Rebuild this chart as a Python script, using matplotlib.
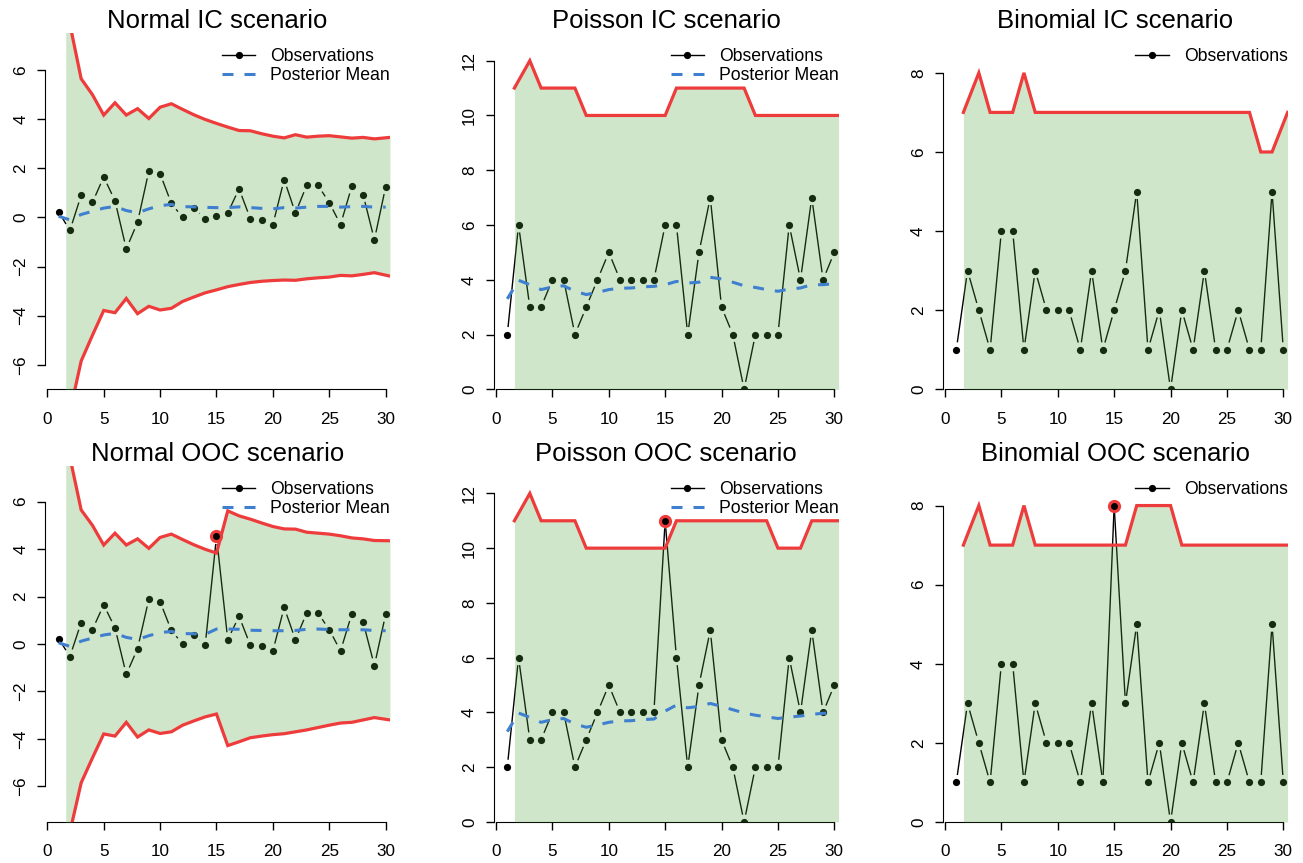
import numpy as np
import matplotlib
matplotlib.use("Agg")
import matplotlib.pyplot as plt
from matplotlib.collections import LineCollection
from matplotlib.lines import Line2D

plt.rcParams['font.family'] = ['Liberation Sans', 'DejaVu Sans']

# time index
t = np.arange(1, 31)
lim_t = np.arange(2, 31)   # limits exist from t=2 on

# ---- Normal ----
normal_obs_ic = [0.23, -0.53, 0.9, 0.61, 1.65, 0.68, -1.28, -0.2, 1.89, 1.78,
                 0.57, 0.0, 0.38, -0.05, 0.04, 0.18, 1.17, -0.05, -0.1, -0.29,
                 1.54, 0.18, 1.31, 1.31, 0.6, -0.29, 1.27, 0.93, -0.91, 1.25]
normal_obs_ooc = [0.23, -0.53, 0.9, 0.61, 1.65, 0.68, -1.28, -0.2, 1.89, 1.78,
                  0.57, 0.0, 0.38, -0.05, 4.53, 0.18, 1.17, -0.05, -0.1, -0.29,
                  1.54, 0.18, 1.31, 1.31, 0.6, -0.29, 1.27, 0.93, -0.91, 1.25]
normal_mean_ic = [0.05, -0.1, 0.12, 0.25, 0.38, 0.45, 0.28, 0.19, 0.35, 0.48,
                  0.53, 0.44, 0.43, 0.41, 0.4, 0.4, 0.43, 0.4, 0.37, 0.35,
                  0.4, 0.38, 0.42, 0.45, 0.45, 0.42, 0.44, 0.45, 0.42, 0.42]
normal_mean_ooc = [0.05, -0.1, 0.12, 0.25, 0.38, 0.45, 0.28, 0.19, 0.35, 0.48,
                   0.53, 0.44, 0.43, 0.41, 0.63, 0.63, 0.62, 0.58, 0.57, 0.56,
                   0.56, 0.57, 0.62, 0.63, 0.61, 0.6, 0.6, 0.6, 0.57, 0.56]
normal_upper_ic = [8.7, 5.65, 5.0, 4.17, 4.67, 4.17, 4.43, 4.03, 4.49, 4.63,
                   4.4, 4.18, 3.99, 3.83, 3.68, 3.54, 3.53, 3.41, 3.31, 3.24,
                   3.37, 3.27, 3.31, 3.33, 3.28, 3.23, 3.26, 3.2, 3.26]
normal_lower_ic = [-8.7, -5.85, -4.8, -3.79, -3.88, -3.3, -3.92, -3.62, -3.77, -3.7,
                   -3.42, -3.24, -3.07, -2.95, -2.82, -2.73, -2.65, -2.6, -2.57, -2.55,
                   -2.56, -2.5, -2.46, -2.43, -2.36, -2.38, -2.32, -2.25, -2.39]
normal_upper_ooc = [8.7, 5.65, 5.0, 4.17, 4.67, 4.17, 4.43, 4.03, 4.49, 4.63,
                    4.4, 4.18, 3.99, 3.83, 5.61, 5.4, 5.26, 5.1, 4.95, 4.85,
                    4.84, 4.71, 4.67, 4.63, 4.56, 4.47, 4.43, 4.36, 4.35]
normal_lower_ooc = [-8.7, -5.85, -4.8, -3.79, -3.88, -3.3, -3.92, -3.62, -3.77, -3.7,
                    -3.42, -3.24, -3.07, -2.95, -4.28, -4.12, -3.95, -3.88, -3.82, -3.78,
                    -3.7, -3.62, -3.52, -3.42, -3.33, -3.3, -3.2, -3.1, -3.2]

# ---- Poisson ----
poisson_obs_ic = [2, 6, 3, 3, 4, 4, 2, 3, 4, 5, 4, 4, 4, 4, 6,
                  6, 2, 5, 7, 3, 2, 0, 2, 2, 2, 6, 4, 7, 4, 5]
poisson_obs_ooc = [2, 6, 3, 3, 4, 4, 2, 3, 4, 5, 4, 4, 4, 4, 11,
                   6, 2, 5, 7, 3, 2, 0, 2, 2, 2, 6, 4, 7, 4, 5]
poisson_mean_ic = [3.3, 3.98, 3.82, 3.64, 3.74, 3.78, 3.58, 3.46, 3.54, 3.64,
                   3.69, 3.7, 3.74, 3.76, 3.82, 3.94, 3.88, 3.91, 4.09, 4.03,
                   3.91, 3.78, 3.72, 3.64, 3.58, 3.66, 3.7, 3.82, 3.82, 3.86]
poisson_mean_ooc = [3.3, 3.98, 3.82, 3.64, 3.74, 3.78, 3.58, 3.46, 3.54, 3.64,
                    3.69, 3.7, 3.74, 3.76, 4.05, 4.27, 4.17, 4.22, 4.33, 4.22,
                    4.1, 3.98, 3.9, 3.84, 3.78, 3.83, 3.87, 3.93, 3.97, 3.98]
poisson_upper_ic = [11, 12, 11, 11, 11, 11, 10, 10, 10, 10, 10, 10, 10, 10,
                    11, 11, 11, 11, 11, 11, 11, 10, 10, 10, 10, 10, 10, 10, 10]
poisson_upper_ooc = [11, 12, 11, 11, 11, 11, 10, 10, 10, 10, 10, 10, 10, 10,
                     11, 11, 11, 11, 11, 11, 11, 11, 11, 10, 10, 10, 11, 11, 11]

# ---- Binomial ----
binom_obs_ic = [1, 3, 2, 1, 4, 4, 1, 3, 2, 2, 2, 1, 3, 1, 2,
                3, 5, 1, 2, 0, 2, 1, 3, 1, 1, 2, 1, 1, 5, 1]
binom_obs_ooc = [1, 3, 2, 1, 4, 4, 1, 3, 2, 2, 2, 1, 3, 1, 8,
                 3, 5, 1, 2, 0, 2, 1, 3, 1, 1, 2, 1, 1, 5, 1]
binom_upper_ic = [7, 8, 7, 7, 7, 8, 7, 7, 7, 7, 7, 7, 7, 7, 7,
                  7, 7, 7, 7, 7, 7, 7, 7, 7, 7, 7, 6, 6, 7]
binom_upper_ooc = [7, 8, 7, 7, 7, 8, 7, 7, 7, 7, 7, 7, 7, 7, 7,
                   8, 8, 8, 8, 7, 7, 7, 7, 7, 7, 7, 7, 7, 7]

RED = '#EE3B3B'
BLUE = '#3F7FCF'
FILL = (0.33, 0.65, 0.25)

# limits are drawn out a bit past the first and last time point
lim_x = lim_t.astype(float)
lim_x[0] = 1.63
lim_x[-1] = 30.38


def gapped_line(ax, x, y, gap=7.5):
    # R type="b": lines stop short of the points
    tr = ax.transData
    pts = tr.transform(np.column_stack([x, y]))
    segs = []
    for p, q in zip(pts[:-1], pts[1:]):
        d = q - p
        L = np.hypot(d[0], d[1])
        if L <= 2 * gap:
            continue
        u = d / L
        segs.append(tr.inverted().transform(np.array([p + u * gap, q - u * gap])))
    ax.add_collection(LineCollection(segs, colors='black', linewidths=1.0, zorder=1))


def panel(ax, title, obs, upper, lower, mean, ylim, yticks, ooc=False):
    ax.set_xlim(-0.2, 30.4)
    ax.set_ylim(*ylim)
    gapped_line(ax, t, obs)
    ax.plot(t, obs, 'o', color='black', ms=5.2, mec='none', zorder=2)
    lo = lower if lower is not None else np.zeros(len(upper))
    ax.fill_between(lim_x, lo, upper, color=FILL, alpha=0.27, lw=0, zorder=3)
    ax.plot(lim_x, upper, color=RED, lw=2.3, zorder=4, solid_joinstyle='miter')
    if lower is not None:
        ax.plot(lim_x, lower, color=RED, lw=2.3, zorder=4, solid_joinstyle='miter')
    handles = [Line2D([], [], color='black', lw=1.0, marker='o', ms=5.2, mec='none')]
    labels = ['Observations']
    if mean is not None:
        ax.plot(t, mean, color=BLUE, lw=2.2, dashes=(3.6, 3.6), zorder=5)
        handles.append(Line2D([], [], color=BLUE, lw=2.2, dashes=(3.6, 3.6)))
        labels.append('Posterior Mean')
    if ooc:
        ax.plot(t[14], obs[14], 'o', color=RED, ms=9.5, mec='none', zorder=6)
        ax.plot(t[14], obs[14], 'o', color='black', ms=5.0, mec='none', zorder=7)

    ax.set_title(title, fontsize=18.5, pad=1.5)
    ax.legend(handles, labels, loc='upper right', bbox_to_anchor=(1.0, 0.958),
              frameon=False, fontsize=12.7, borderpad=0, borderaxespad=0,
              handlelength=1.9, handletextpad=0.85, labelspacing=0.12)

    ax.set_xticks([0, 5, 10, 15, 20, 25, 30])
    ax.set_yticks(yticks)
    for s in ['top', 'right']:
        ax.spines[s].set_visible(False)
    ax.spines['left'].set_bounds(yticks[0], yticks[-1])
    ax.spines['bottom'].set_bounds(0, 30)
    ax.tick_params(length=6, width=1, labelsize=12.3)
    ax.tick_params(axis='x', pad=10)
    ax.tick_params(axis='y', pad=6)
    for lab in ax.get_yticklabels():
        lab.set_rotation(90)
        lab.set_va('center')


fig = plt.figure(figsize=(13.03, 8.63), dpi=100)
W, H = 1303.0, 863.0
lefts = [45.07, 493.74, 942.74]
tops = [33.3, 466.0]
aw, ah = 345.1, 356.0
axes = [[fig.add_axes([l / W, 1 - (tp + ah) / H, aw / W, ah / H]) for l in lefts] for tp in tops]

panel(axes[0][0], 'Normal IC scenario', normal_obs_ic, normal_upper_ic, normal_lower_ic,
      normal_mean_ic, (-7, 7.5), [-6, -4, -2, 0, 2, 4, 6])
panel(axes[0][1], 'Poisson IC scenario', poisson_obs_ic, poisson_upper_ic, None,
      poisson_mean_ic, (0, 13), [0, 2, 4, 6, 8, 10, 12])
panel(axes[0][2], 'Binomial IC scenario', binom_obs_ic, binom_upper_ic, None,
      None, (0, 9), [0, 2, 4, 6, 8])
panel(axes[1][0], 'Normal OOC scenario', normal_obs_ooc, normal_upper_ooc, normal_lower_ooc,
      normal_mean_ooc, (-7.5, 7.5), [-6, -4, -2, 0, 2, 4, 6], ooc=True)
panel(axes[1][1], 'Poisson OOC scenario', poisson_obs_ooc, poisson_upper_ooc, None,
      poisson_mean_ooc, (0, 13), [0, 2, 4, 6, 8, 10, 12], ooc=True)
panel(axes[1][2], 'Binomial OOC scenario', binom_obs_ooc, binom_upper_ooc, None,
      None, (0, 9), [0, 2, 4, 6, 8], ooc=True)

fig.savefig('out.png', dpi=100)
